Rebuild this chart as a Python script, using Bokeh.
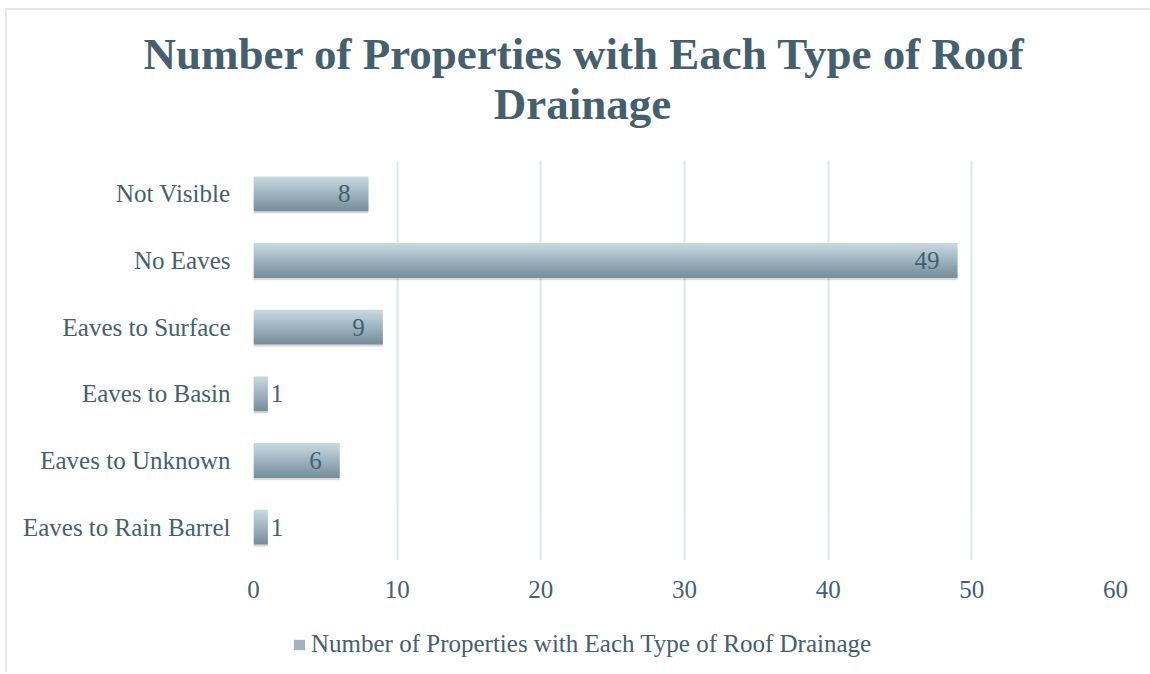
from bokeh.plotting import figure
from bokeh.models import Range1d, FactorRange, FixedTicker, Legend, LegendItem, ColumnDataSource
from bokeh.layouts import column
from bokeh.transform import dodge
from bokeh.core.properties import value
from bokeh.embed import file_html
from bokeh.resources import INLINE

categories = ["Eaves to Rain Barrel", "Eaves to Unknown", "Eaves to Basin",
              "Eaves to Surface", "No Eaves", "Not Visible"]
counts = [1, 6, 1, 9, 49, 8]
x_ticks = [0, 10, 20, 30, 40, 50, 60]
series_name = "Number of Properties with Each Type of Roof Drainage"
title_line1 = "Number of Properties with Each Type of Roof"
title_line2 = "Drainage"

FONT = "Liberation Serif"
TEXT = "#44606f"
GRID = "#dfe6ea"
EDGE = "#e0e6ea"
SHIFT_X, SHIFT_Y = 7, 10          # chart border offset (margin + border width)
FL, FW, FR = 253 - SHIFT_X, 862, 35   # frame left border, frame width, right border

# ---------- title ----------
tfig = figure(frame_width=FW, frame_height=70, x_range=Range1d(253, 253 + FW),
              y_range=Range1d(0, 70), output_backend="svg", toolbar_location=None,
              x_axis_type=None, y_axis_type=None, min_border_left=FL,
              min_border_right=FR, min_border_top=80 - SHIFT_Y, min_border_bottom=0,
              outline_line_color=None)
tfig.grid.visible = False
tfig.title.text = title_line1
tfig.title.align = "left"
tfig.title.offset = -110
tfig.title.standoff = 4
tfig.title.text_font = FONT
tfig.title.text_font_size = "45px"
tfig.title.text_font_style = "bold"
tfig.title.text_color = TEXT
t2 = ColumnDataSource(dict(x=[582], y=[46.5], t=[title_line2]))
tfig.text(x="x", y="y", text="t", source=t2, text_align="center",
          text_baseline="alphabetic", text_font=value(FONT), text_font_size="45px",
          text_font_style="bold", text_color=TEXT)

# ---------- main chart ----------
p = figure(frame_width=FW, frame_height=400, y_range=FactorRange(*categories),
           x_range=Range1d(0, 60), output_backend="svg", toolbar_location=None,
           min_border_left=FL, min_border_right=FR, min_border_top=10,
           min_border_bottom=50, background_fill_color="white",
           border_fill_color="white")
p.title.visible = False
p.outline_line_color = None
p.y_range.range_padding = 0

src = ColumnDataSource(dict(cat=categories, val=counts))

top_c = (0xc6, 0xd9, 0xe1)
bot_c = (0x78, 0x90, 0x9e)
N = 20
H = 0.51
sh = H / N
colors = []
for i in range(N):
    t = i / (N - 1)
    c = tuple(int(round(top_c[k] * (1 - t) + bot_c[k] * t)) for k in range(3))
    colors.append("#%02x%02x%02x" % c)

# soft shadow under bars
p.hbar(y=dodge("cat", -H / 2 - 0.015, range=p.y_range), right="val", left=0,
       height=0.035, source=src, fill_color="black", fill_alpha=0.13, line_color=None)
p.hbar(y=dodge("cat", -H / 2 - 0.03, range=p.y_range), right="val", left=0,
       height=0.03, source=src, fill_color="black", fill_alpha=0.05, line_color=None)
for i in range(N):
    off = H / 2 - sh * (i + 0.5)
    p.hbar(y=dodge("cat", off, range=p.y_range), right="val", left=0,
           height=sh * 1.5, source=src, fill_color=colors[i], line_color=None)

in_src = ColumnDataSource(dict(cat=[c for c, v in zip(categories, counts) if v >= 3],
                               val=[v for v in counts if v >= 3],
                               txt=[str(v) for v in counts if v >= 3]))
out_src = ColumnDataSource(dict(cat=[c for c, v in zip(categories, counts) if v < 3],
                                val=[v for v in counts if v < 3],
                                txt=[str(v) for v in counts if v < 3]))
p.text(x="val", y="cat", text="txt", source=in_src, x_offset=-18,
       text_align="right", text_baseline="middle", text_font=value(FONT),
       text_font_size="25px", text_color=TEXT)
p.text(x="val", y="cat", text="txt", source=out_src, x_offset=3,
       text_align="left", text_baseline="middle", text_font=value(FONT),
       text_font_size="25px", text_color=TEXT)

p.xaxis.ticker = FixedTicker(ticks=x_ticks)
for ax in (p.xaxis[0], p.yaxis[0]):
    ax.axis_line_color = None
    ax.major_tick_line_color = None
    ax.minor_tick_line_color = None
    ax.major_label_text_font = FONT
    ax.major_label_text_font_size = "25px"
    ax.major_label_text_color = TEXT
p.xaxis.major_label_standoff = 14
p.yaxis.major_label_standoff = 17
p.xgrid.grid_line_color = GRID
p.xgrid.grid_line_width = 2
p.xgrid.ticker = FixedTicker(ticks=x_ticks)
p.ygrid.grid_line_color = None

# ---------- legend ----------
lfig = figure(frame_width=FW, frame_height=62, x_range=Range1d(253, 253 + FW),
              y_range=Range1d(0, 62), output_backend="svg", toolbar_location=None,
              x_axis_type=None, y_axis_type=None, min_border_left=FL,
              min_border_right=FR, min_border_top=0, min_border_bottom=0,
              outline_line_color=None)
lfig.title.visible = False
lfig.grid.visible = False
# swatch renderer (its bars fall outside this strip's range; only the legend shows)
swatch = lfig.hbar(y="val", left="val", right="val", height=0, source=src,
                   fill_color="#9fb3bf", line_color=None)
legend = Legend(items=[LegendItem(label=series_name, renderers=[swatch])],
                orientation="horizontal", location=(39, 14),
                label_text_font=FONT, label_text_font_size="25px",
                label_text_color=TEXT, glyph_width=14, glyph_height=13,
                label_standoff=5, border_line_color=None,
                background_fill_alpha=0, padding=4, margin=0)
lfig.add_layout(legend, "center")

layout = column(tfig, p, lfig, spacing=0, margin=(8, 0, 0, 5),
                styles={"border-left": "2px solid " + EDGE,
                        "border-top": "2px solid " + EDGE})
open("out.html", "w").write(file_html(layout, INLINE))
